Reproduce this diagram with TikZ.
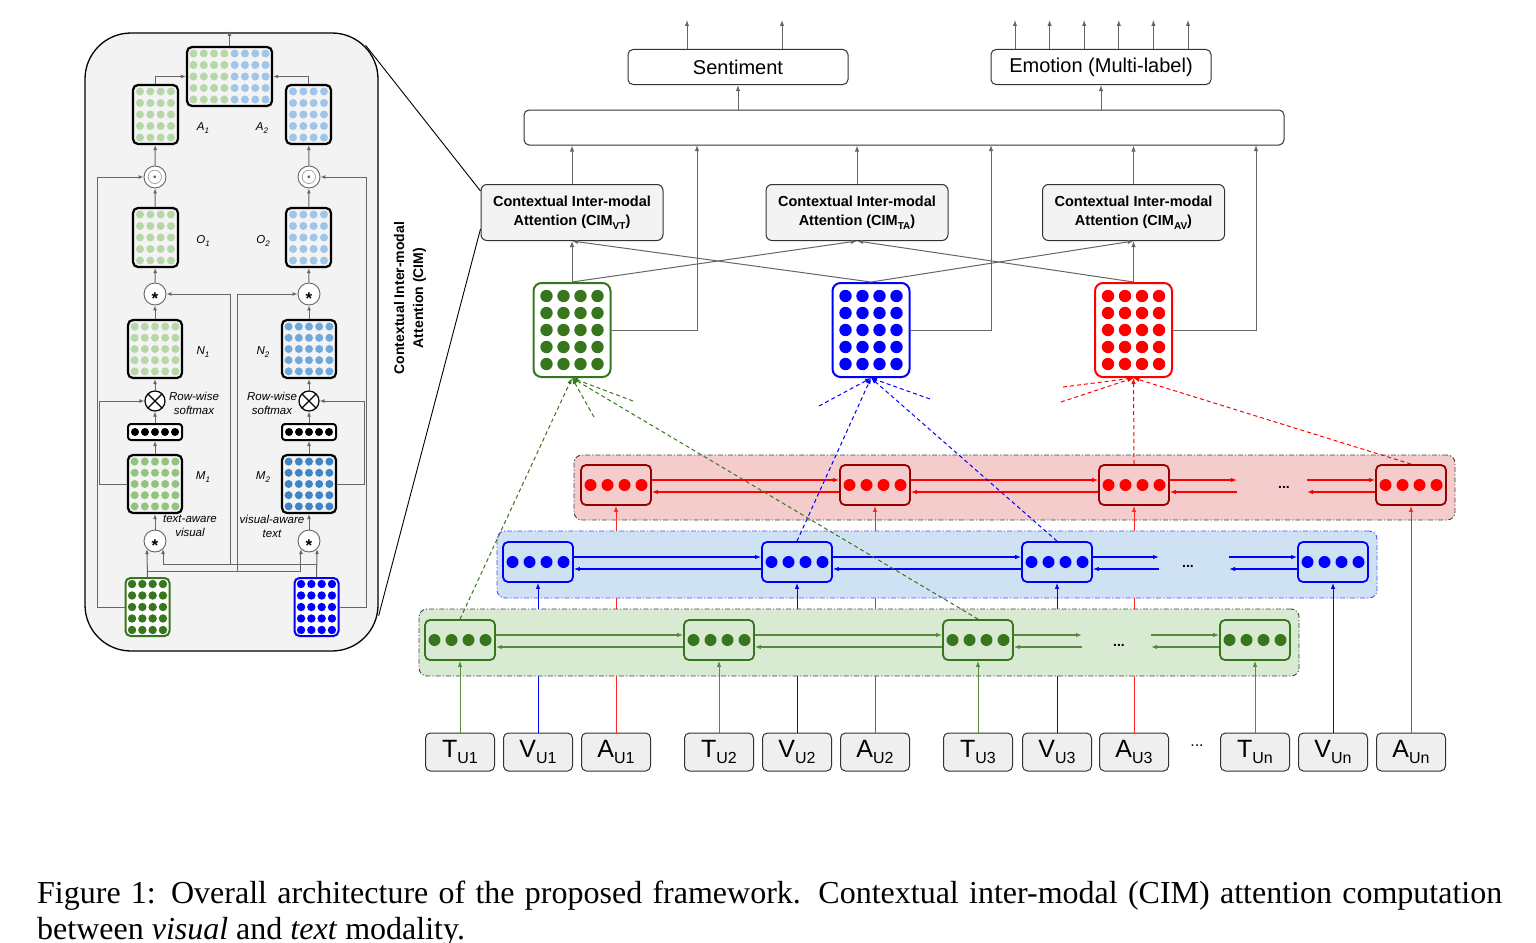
\documentclass[tikz,border=0pt]{standalone}
\usepackage{fontspec}
\setmainfont{Liberation Sans}
\newfontfamily\captionfont{Liberation Serif}
\usetikzlibrary{arrows.meta,positioning,calc}

\definecolor{gdark}{HTML}{38761D}
\definecolor{gmid}{HTML}{93C47D}
\definecolor{glite}{HTML}{B6D7A8}
\definecolor{bpure}{HTML}{0000FF}
\definecolor{bdeep}{HTML}{3D85C6}
\definecolor{bmid}{HTML}{6FA8DC}
\definecolor{blite}{HTML}{9FC5E8}
\definecolor{rpure}{HTML}{FF0000}
\definecolor{rdark}{HTML}{990000}
\definecolor{rrowbg}{HTML}{F4CCCC}
\definecolor{browbg}{HTML}{CFE2F3}
\definecolor{growbg}{HTML}{D9EAD3}
\definecolor{panelgray}{HTML}{F3F3F3}
\definecolor{inputgray}{HTML}{EFEFEF}
\definecolor{linegray}{HTML}{666666}

% dot grid centred on a node: node, columns, rows, x step, y step, radius, colour
\newcommand{\dotgrid}[7]{%
  \foreach \ci in {1,...,#2}{\foreach \ri in {1,...,#3}{%
    \fill[#7] ($(#1.center)+({(\ci-(#2+1)/2)*#4},{(\ri-(#3+1)/2)*#5})$) circle (#6);}}}
\newcommand{\insub}[2]{#1{\fontsize{16}{16}\selectfont\raisebox{-6pt}{#2}}}
\newcommand{\cimsub}[1]{{\fontsize{10}{10}\selectfont\raisebox{-3.5pt}{#1}}}
\newcommand{\labsub}[2]{#1{\fontsize{8}{8}\selectfont\raisebox{-3pt}{#2}}}

\begin{document}
\begin{tikzpicture}[
    x=1pt, y=-1pt,
    >={Latex[length=6pt,width=4.5pt]},
    outbox/.style={rectangle, rounded corners=5pt, draw=black!80, fill=white, line width=1pt, minimum width=220pt, minimum height=35pt, font=\fontsize{20}{24}\selectfont},
    fusebox/.style={rectangle, rounded corners=5pt, draw=black!80, fill=white, line width=1pt, minimum width=760pt, minimum height=35pt},
    cimbox/.style={rectangle, rounded corners=6pt, draw=black!80, fill=panelgray, line width=1pt, minimum width=182pt, minimum height=56pt, align=center, font=\bfseries\fontsize{14.5}{19}\selectfont},
    bigmat/.style={rectangle, rounded corners=8pt, draw=#1, line width=2pt, fill=white, minimum width=77pt, minimum height=94pt},
    unitbox/.style 2 args={rectangle, rounded corners=5pt, draw=#1, fill=#2, line width=1.8pt, minimum width=70pt, minimum height=40pt},
    rowbg/.style 2 args={rectangle, rounded corners=8pt, draw=#1, fill=#2, line width=0.9pt, dash pattern=on 5pt off 2pt on 1.2pt off 2pt},
    inbox/.style={rectangle, rounded corners=5pt, draw=black!80, fill=inputgray, line width=1pt, minimum width=69pt, minimum height=38pt, font=\fontsize{25}{25}\selectfont},
    panel/.style={rectangle, rounded corners=46pt, draw=black, fill=panelgray, line width=1.3pt, minimum width=293pt, minimum height=618pt},
    smat/.style={rectangle, rounded corners=5pt, draw=black, fill=panelgray, line width=2.2pt, minimum width=45pt, minimum height=59pt},
    wmat/.style={smat, minimum width=54pt, minimum height=58pt},
    barbox/.style={rectangle, rounded corners=3pt, draw=black, fill=white, line width=2pt, minimum width=54pt, minimum height=16pt},
    inmat/.style={rectangle, rounded corners=5pt, draw=#1, fill=white, line width=2pt, minimum width=44pt, minimum height=58pt},
    opnode/.style={circle, draw=linegray, fill=white, line width=0.9pt, minimum size=22pt, inner sep=0pt},
    xnode/.style={circle, draw=black, fill=white, line width=1.2pt, minimum size=20pt, inner sep=0pt,
      path picture={\draw[black, line width=1.1pt] (path picture bounding box.north west) -- (path picture bounding box.south east)
        (path picture bounding box.north east) -- (path picture bounding box.south west);}},
    plabel/.style={font=\itshape\fontsize{11.5}{14}\selectfont, align=center, inner sep=0pt},
    parrow/.style={draw=linegray, line width=1pt, -{Latex[length=5pt,width=4pt]}},
    gline/.style={draw=linegray, line width=1pt, ->},
    attn/.style={draw=#1, line width=1pt, dash pattern=on 4pt off 3pt, ->},
    rowarrow/.style={draw=#1, line width=1.1pt, ->},
    feed/.style={draw=#1, line width=1pt, ->}
  ]
  \useasboundingbox (0,0) rectangle (1536,942);

  % zoomed CIM block
  \node[panel] (cim) at (231.5,342) {};
  \node[smat, minimum width=85pt] (concat) at (229.5,76.5) {};
  \coordinate (concatL) at ([xshift=-20.6pt]concat.center);
  \coordinate (concatR) at ([xshift=20.6pt]concat.center);
  \node[smat] (A1) at (155.5,114.5) {};
  \node[smat] (A2) at (308.5,114.5) {};
  \node[opnode, text=linegray] (odotL) at (155,177) {\fontsize{21}{21}\selectfont$\odot$};
  \node[opnode, text=linegray] (odotR) at (309,177) {\fontsize{21}{21}\selectfont$\odot$};
  \node[smat] (O1) at (155.5,237.5) {};
  \node[smat] (O2) at (308.5,237.5) {};
  \node[opnode] (starL) at (155,294) {\bfseries\fontsize{17}{17}\selectfont\raisebox{-10pt}[0pt][0pt]{*}};
  \node[opnode] (starR) at (309,294) {\bfseries\fontsize{17}{17}\selectfont\raisebox{-10pt}[0pt][0pt]{*}};
  \node[wmat] (N1) at (155,349) {};
  \node[wmat] (N2) at (309,349) {};
  \node[xnode] (xL) at (155,401) {};
  \node[xnode] (xR) at (309,401) {};
  \node[barbox] (barL) at (155,432) {};
  \node[barbox] (barR) at (309,432) {};
  \node[wmat] (M1) at (155,484) {};
  \node[wmat] (M2) at (309,484) {};
  \node[opnode] (starL2) at (155,541) {\bfseries\fontsize{17}{17}\selectfont\raisebox{-10pt}[0pt][0pt]{*}};
  \node[opnode] (starR2) at (309,541) {\bfseries\fontsize{17}{17}\selectfont\raisebox{-10pt}[0pt][0pt]{*}};
  \node[inmat=gdark] (inT) at (147.5,607) {};
  \node[inmat=bpure] (inV) at (316.5,607) {};

  \dotgrid{concatL}{4}{5}{10.3}{11.5}{4pt}{glite}
  \dotgrid{concatR}{4}{5}{10.3}{11.5}{4pt}{blite}
  \dotgrid{A1}{4}{5}{10.3}{11.5}{4pt}{glite}
  \dotgrid{A2}{4}{5}{10.3}{11.5}{4pt}{blite}
  \dotgrid{O1}{4}{5}{10.3}{11.5}{4pt}{glite}
  \dotgrid{O2}{4}{5}{10.3}{11.5}{4pt}{blite}
  \dotgrid{N1}{5}{5}{10.2}{11.2}{4pt}{glite}
  \dotgrid{N2}{5}{5}{10.2}{11.2}{4pt}{bmid}
  \dotgrid{barL}{5}{1}{10}{0}{4pt}{black}
  \dotgrid{barR}{5}{1}{10}{0}{4pt}{black}
  \dotgrid{M1}{5}{5}{10.2}{11.2}{4pt}{gmid}
  \dotgrid{M2}{5}{5}{10.2}{11.2}{4pt}{bdeep}
  \dotgrid{inT}{4}{5}{10.3}{11.5}{4.2pt}{gdark}
  \dotgrid{inV}{4}{5}{10.3}{11.5}{4.2pt}{bpure}

  \node[plabel] (lA1) at (203,128) {\labsub{A}{1}};
  \node[plabel] (lA2) at (262,128) {\labsub{A}{2}};
  \node[plabel] (lO1) at (203,241) {\labsub{O}{1}};
  \node[plabel] (lO2) at (263,241) {\labsub{O}{2}};
  \node[plabel] (lN1) at (203,352) {\labsub{N}{1}};
  \node[plabel] (lN2) at (263,352) {\labsub{N}{2}};
  \node[plabel] (lM1) at (203,477) {\labsub{M}{1}};
  \node[plabel] (lM2) at (263,477) {\labsub{M}{2}};
  \node[plabel] (rwL) at (194,403) {Row-wise\\softmax};
  \node[plabel] (rwR) at (272,403) {Row-wise\\softmax};
  \node[plabel] (taV) at (190,526) {text-aware\\visual};
  \node[plabel] (vaT) at (272,526) {visual-aware\\text};

  \coordinate (cimtop) at (229.5,31);
  \coordinate (jT) at ([yshift=6pt]inT.north);
  \coordinate (jV) at ([yshift=13pt]inV.north);
  \coordinate (tapT) at (237,572);
  \coordinate (tapV) at (230,565);
  \draw[parrow] (concat.north) -- (cimtop);
  \draw[parrow] (A1.north) |- (concat.west);
  \draw[parrow] (A2.north) |- (concat.east);
  \draw[parrow] (odotL) -- (A1);
  \draw[parrow] (odotR) -- (A2);
  \draw[parrow] (O1) -- (odotL);
  \draw[parrow] (O2) -- (odotR);
  \draw[parrow] (starL) -- (O1);
  \draw[parrow] (starR) -- (O2);
  \draw[parrow] (N1) -- (starL);
  \draw[parrow] (N2) -- (starR);
  \draw[parrow] (xL) -- (N1);
  \draw[parrow] (xR) -- (N2);
  \draw[parrow] (barL) -- (xL);
  \draw[parrow] (barR) -- (xR);
  \draw[parrow] (M1) -- (barL);
  \draw[parrow] (M2) -- (barR);
  \draw[parrow] (starL2) -- (M1);
  \draw[parrow] (starR2) -- (M2);
  \draw[parrow] (M1.west) -- ++(-27,0) |- (xL.west);
  \draw[parrow] (M2.east) -- ++(27,0) |- (xR.east);
  \draw[parrow] (inT.west) -- ++(-27,0) |- (odotL.west);
  \draw[parrow] (inV.east) -- ++(27,0) |- (odotR.east);
  \draw[parrow] (inT.north) -- (starL2.south west);
  \draw[parrow] (inV.north) -- (starR2.south east);
  \draw[parrow] (jT) -| (starR2.south west);
  \draw[parrow] (jV) -| (starL2.south east);
  \draw[parrow] (tapV) |- (starL.east);
  \draw[parrow] (tapT) |- (starR.west);

  \node[rotate=90, align=center, font=\bfseries\fontsize{14}{19}\selectfont] (cimlabel) at (410,298) {Contextual Inter-modal\\Attention (CIM)};

  % outputs and fusion
  \node[outbox] (sent) at (738,67) {Sentiment};
  \node[outbox] (emo) at (1101,67) {Emotion (Multi-label)};
  \node[fusebox] (fuse) at (904,127.5) {};
  \coordinate (so1) at (687,20);
  \coordinate (so2) at (782,20);
  \draw[gline] (so1 |- sent.north) -- (so1);
  \draw[gline] (so2 |- sent.north) -- (so2);
  \foreach \k in {0,...,5} {
    \coordinate (eo\k) at ({1015+34.6*\k},20);
    \draw[gline] (eo\k |- emo.north) -- (eo\k);
  }
  \draw[gline] (sent.south |- fuse.north) -- (sent.south);
  \draw[gline] (emo.south |- fuse.north) -- (emo.south);

  \node[cimbox] (cimvt) at (572,212.5) {Contextual Inter-modal\\Attention (CIM\cimsub{VT})};
  \node[cimbox] (cimta) at (857,212.5) {Contextual Inter-modal\\Attention (CIM\cimsub{TA})};
  \node[cimbox] (cimav) at (1133.5,212.5) {Contextual Inter-modal\\Attention (CIM\cimsub{AV})};
  \draw[gline] (cimvt.north) -- (cimvt.north |- fuse.south);
  \draw[gline] (cimta.north) -- (cimta.north |- fuse.south);
  \draw[gline] (cimav.north) -- (cimav.north |- fuse.south);

  \coordinate (zA) at ([xshift=-13pt,yshift=-13pt]cim.north east);
  \coordinate (zB) at ([yshift=36pt]cim.south east);
  \draw[black, line width=0.9pt] (zA) -- ([yshift=-7pt]cimvt.north west);
  \draw[black, line width=0.9pt] (zB) -- ([yshift=12pt]cimvt.south west);

  \node[bigmat=gdark] (gmat) at (572,330) {};
  \node[bigmat=bpure] (bmat) at (871,330) {};
  \node[bigmat=rpure] (rmat) at (1133.5,330) {};
  \dotgrid{gmat}{4}{5}{17}{17}{6.2pt}{gdark}
  \dotgrid{bmat}{4}{5}{17}{17}{6.2pt}{bpure}
  \dotgrid{rmat}{4}{5}{17}{17}{6.2pt}{rpure}

  \draw[gline] (gmat.north) -- (cimvt.south);
  \draw[gline] (gmat.north) -- (cimta.south);
  \draw[gline] (bmat.north) -- (cimvt.south);
  \draw[gline] (bmat.north) -- (cimav.south);
  \draw[gline] (rmat.north) -- (cimav.south);
  \draw[gline] (rmat.north) -- (cimta.south);
  \coordinate (gside) at (697,145);
  \coordinate (bside) at (991,145);
  \coordinate (rside) at (1256,145);
  \draw[gline] (gmat.east) -| (gside);
  \draw[gline] (bmat.east) -| (bside);
  \draw[gline] (rmat.east) -| (rside);

  % utterance inputs
  \node[inbox] (t1) at (460,752) {\insub{T}{U1}};
  \node[inbox] (v1) at (538,752) {\insub{V}{U1}};
  \node[inbox] (a1) at (616,752) {\insub{A}{U1}};
  \node[inbox] (t2) at (719,752) {\insub{T}{U2}};
  \node[inbox] (v2) at (797,752) {\insub{V}{U2}};
  \node[inbox] (a2) at (875,752) {\insub{A}{U2}};
  \node[inbox] (t3) at (978,752) {\insub{T}{U3}};
  \node[inbox] (v3) at (1057,752) {\insub{V}{U3}};
  \node[inbox] (a3) at (1134,752) {\insub{A}{U3}};
  \node[font=\fontsize{16}{16}\selectfont] (indots) at (1197,746) {...};
  \node[inbox] (tn) at (1255,752) {\insub{T}{Un}};
  \node[inbox] (vn) at (1333,752) {\insub{V}{Un}};
  \node[inbox] (an) at (1411,752) {\insub{A}{Un}};

  % audio row
  \node[rowbg={black!75}{rrowbg}] (rrow) at (1014.5,487.5) [minimum width=881pt, minimum height=65pt] {};
  \node[unitbox={rdark}{rrowbg}] (r1) at (616,485) {};
  \node[unitbox={rdark}{rrowbg}] (r2) at (875,485) {};
  \node[unitbox={rdark}{rrowbg}] (r3) at (1134,485) {};
  \node[unitbox={rdark}{rrowbg}] (r4) at (1411,485) {};
  \foreach \u in {r1,r2,r3,r4} {\dotgrid{\u}{4}{1}{17}{0}{6pt}{rpure}}
  \node[font=\bfseries\fontsize{14}{14}\selectfont] (rdots) at (1284,487) {...};
  \coordinate (rgapL) at (1237,485);
  \coordinate (rgapR) at (1307,485);
  \draw[rowarrow=rpure] ([yshift=5pt]r1.east) -- ([yshift=5pt]r2.west);
  \draw[rowarrow=rpure] ([yshift=-7pt]r2.west) -- ([yshift=-7pt]r1.east);
  \draw[rowarrow=rpure] ([yshift=5pt]r2.east) -- ([yshift=5pt]r3.west);
  \draw[rowarrow=rpure] ([yshift=-7pt]r3.west) -- ([yshift=-7pt]r2.east);
  \draw[rowarrow=rpure] ([yshift=5pt]r3.east) -- ([yshift=5pt]rgapL);
  \draw[rowarrow=rpure] ([yshift=-7pt]rgapL) -- ([yshift=-7pt]r3.east);
  \draw[rowarrow=rpure] ([yshift=5pt]rgapR) -- ([yshift=5pt]r4.west);
  \draw[rowarrow=rpure] ([yshift=-7pt]r4.west) -- ([yshift=-7pt]rgapR);
  \draw[feed=rpure!85] (a1) -- (r1);
  \draw[feed=rpure!85] (a2) -- (r2);
  \draw[feed=rpure!85] (a3) -- (r3);
  \draw[feed=rpure!85] (an) -- (r4);

  % visual row
  \node[rowbg={bpure!70}{browbg}] (brow) at (937,564.5) [minimum width=880pt, minimum height=67pt] {};
  \node[unitbox={bpure}{browbg}] (b1) at (538,562) {};
  \node[unitbox={bpure}{browbg}] (b2) at (797,562) {};
  \node[unitbox={bpure}{browbg}] (b3) at (1057,562) {};
  \node[unitbox={bpure}{browbg}] (b4) at (1333,562) {};
  \foreach \u in {b1,b2,b3,b4} {\dotgrid{\u}{4}{1}{17}{0}{6pt}{bpure}}
  \node[font=\bfseries\fontsize{14}{14}\selectfont] (bdots) at (1188,566) {...};
  \coordinate (bgapL) at (1159,562);
  \coordinate (bgapR) at (1229,562);
  \draw[rowarrow=bpure] ([yshift=5pt]b1.east) -- ([yshift=5pt]b2.west);
  \draw[rowarrow=bpure] ([yshift=-7pt]b2.west) -- ([yshift=-7pt]b1.east);
  \draw[rowarrow=bpure] ([yshift=5pt]b2.east) -- ([yshift=5pt]b3.west);
  \draw[rowarrow=bpure] ([yshift=-7pt]b3.west) -- ([yshift=-7pt]b2.east);
  \draw[rowarrow=bpure] ([yshift=5pt]b3.east) -- ([yshift=5pt]bgapL);
  \draw[rowarrow=bpure] ([yshift=-7pt]bgapL) -- ([yshift=-7pt]b3.east);
  \draw[rowarrow=bpure] ([yshift=5pt]bgapR) -- ([yshift=5pt]b4.west);
  \draw[rowarrow=bpure] ([yshift=-7pt]b4.west) -- ([yshift=-7pt]bgapR);
  \draw[feed=bpure] (v1) -- (b1);
  \draw[feed=bpure] (v2) -- (b2);
  \draw[feed=bpure] (v3) -- (b3);
  \draw[feed=bpure] (vn) -- (b4);

  % text row
  \node[rowbg={black!75}{growbg}] (grow) at (859,642.5) [minimum width=880pt, minimum height=67pt] {};
  \node[unitbox={gdark}{growbg}] (g1) at (460,640) {};
  \node[unitbox={gdark}{growbg}] (g2) at (719,640) {};
  \node[unitbox={gdark}{growbg}] (g3) at (978,640) {};
  \node[unitbox={gdark}{growbg}] (g4) at (1255,640) {};
  \foreach \u in {g1,g2,g3,g4} {\dotgrid{\u}{4}{1}{17}{0}{6pt}{gdark}}
  \node[font=\bfseries\fontsize{14}{14}\selectfont] (gdots) at (1119,645) {...};
  \coordinate (ggapL) at (1082,640);
  \coordinate (ggapR) at (1151,640);
  \draw[rowarrow=gdark!85] ([yshift=5pt]g1.east) -- ([yshift=5pt]g2.west);
  \draw[rowarrow=gdark!85] ([yshift=-7pt]g2.west) -- ([yshift=-7pt]g1.east);
  \draw[rowarrow=gdark!85] ([yshift=5pt]g2.east) -- ([yshift=5pt]g3.west);
  \draw[rowarrow=gdark!85] ([yshift=-7pt]g3.west) -- ([yshift=-7pt]g2.east);
  \draw[rowarrow=gdark!85] ([yshift=5pt]g3.east) -- ([yshift=5pt]ggapL);
  \draw[rowarrow=gdark!85] ([yshift=-7pt]ggapL) -- ([yshift=-7pt]g3.east);
  \draw[rowarrow=gdark!85] ([yshift=5pt]ggapR) -- ([yshift=5pt]g4.west);
  \draw[rowarrow=gdark!85] ([yshift=-7pt]g4.west) -- ([yshift=-7pt]ggapR);
  \draw[feed=gdark!85] (t1) -- (g1);
  \draw[feed=gdark!85] (t2) -- (g2);
  \draw[feed=gdark!85] (t3) -- (g3);
  \draw[feed=gdark!85] (tn) -- (g4);

  % attention links
  \coordinate (gs1) at (594,417);
  \coordinate (gs2) at (633,401);
  \coordinate (bs1) at (819,406);
  \coordinate (bs2) at (930,399);
  \coordinate (rs1) at (1063,387);
  \coordinate (rs2) at (1061,402);
  \draw[attn=gdark] (g1.north) -- (gmat.south);
  \draw[attn=gdark] (gs1) -- (gmat.south);
  \draw[attn=gdark] (gs2) -- (gmat.south);
  \draw[attn=gdark] (g3.north) -- (gmat.south);
  \draw[attn=bpure] (b2.north) -- (bmat.south);
  \draw[attn=bpure] (bs1) -- (bmat.south);
  \draw[attn=bpure] (bs2) -- (bmat.south);
  \draw[attn=bpure] (b3.north) -- (bmat.south);
  \draw[attn=rpure] (r3.north) -- (rmat.south);
  \draw[attn=rpure] (rs1) -- (rmat.south);
  \draw[attn=rpure] (rs2) -- (rmat.south);
  \draw[attn=rpure] (r4.north) -- (rmat.south);

  % caption
  \node[anchor=base west, inner sep=0pt, font=\captionfont\fontsize{32}{38}\selectfont] (capA) at (37,903)
    {\makebox[1465pt][s]{Figure 1: Overall architecture of the proposed framework. Contextual inter-modal (CIM) attention computation}};
  \node[anchor=base west, inner sep=0pt, font=\captionfont\fontsize{32}{38}\selectfont] (capB) at (37,939)
    {between \textit{visual} and \textit{text} modality.};
\end{tikzpicture}
\end{document}
